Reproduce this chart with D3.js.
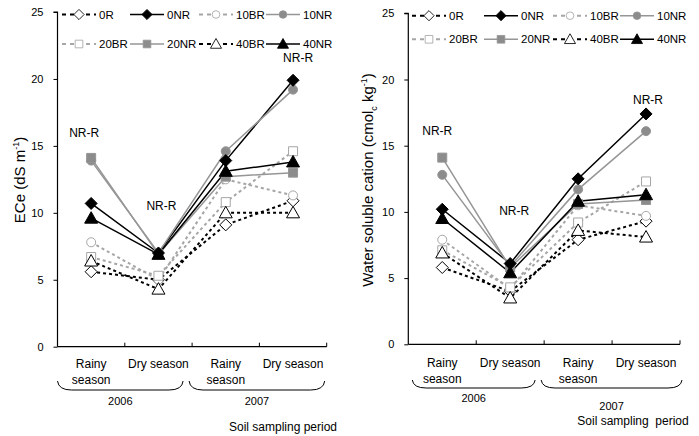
<!DOCTYPE html>
<html>
<head>
<meta charset="utf-8">
<script src="https://cdn.jsdelivr.net/npm/d3@7"></script>
<style>
  body { margin: 0; background: #fff; }
  text { font-family: "Liberation Sans", Arial, sans-serif; fill: #000; }
</style>
</head>
<body>
<svg id="chart" width="699" height="436"></svg>
<script>
// Sampling periods (x categories) and their printed labels
const periods = ["Rainy season 2006", "Dry season 2006", "Rainy season 2007", "Dry season 2007"];
const periodLabels = [["Rainy", "season"], ["Dry season"], ["Rainy", "season"], ["Dry season"]];
const years = ["2006", "2007"];
const yTicks = [0, 5, 10, 15, 20, 25];
const seriesNames = ["0R", "0NR", "10BR", "10NR", "20BR", "20NR", "40BR", "40NR"];

// Electrical conductivity of the saturated extract, ECe (dS m-1)
const ece0R   = [5.6, 5.0, 9.1, 10.9];
const ece0NR  = [10.7, 7.0, 13.9, 19.9];
const ece10BR = [7.8, 5.0, 12.5, 11.3];
const ece10NR = [13.9, 7.0, 14.6, 19.2];
const ece20BR = [6.7, 5.3, 10.8, 14.6];
const ece20NR = [14.1, 6.9, 12.7, 13.0];
const ece40BR = [6.4, 4.3, 10.0, 10.0];
const ece40NR = [9.6, 6.9, 13.1, 13.8];

// Water soluble cations (cmolc kg-1)
const wsc0R   = [5.8, 4.0, 7.9, 9.3];
const wsc0NR  = [10.2, 6.1, 12.5, 17.4];
const wsc10BR = [7.9, 4.2, 10.5, 9.7];
const wsc10NR = [12.8, 5.9, 11.7, 16.1];
const wsc20BR = [7.1, 4.3, 9.2, 12.3];
const wsc20NR = [14.1, 5.8, 10.6, 10.9];
const wsc40BR = [6.9, 3.5, 8.6, 8.1];
const wsc40NR = [9.5, 5.4, 10.8, 11.3];

const eceSeries = [ece0R, ece0NR, ece10BR, ece10NR, ece20BR, ece20NR, ece40BR, ece40NR];
const wscSeries = [wsc0R, wsc0NR, wsc10BR, wsc10NR, wsc20BR, wsc20NR, wsc40BR, wsc40NR];

// Line and marker style for each treatment
const styles = {
  "0R":   { stroke: "#000",    dash: true,  shape: "diamond",  fill: "#fff" },
  "0NR":  { stroke: "#000",    dash: false, shape: "diamond",  fill: "#000" },
  "10BR": { stroke: "#a6a6a6", dash: true,  shape: "circle",   fill: "#fff" },
  "10NR": { stroke: "#969696", dash: false, shape: "circle",   fill: "#8c8c8c" },
  "20BR": { stroke: "#a6a6a6", dash: true,  shape: "square",   fill: "#fff" },
  "20NR": { stroke: "#969696", dash: false, shape: "square",   fill: "#8c8c8c" },
  "40BR": { stroke: "#000",    dash: true,  shape: "triangle", fill: "#fff" },
  "40NR": { stroke: "#000",    dash: false, shape: "triangle", fill: "#000" }
};
// markers drawn in this order so the solid black ones sit on top
const markerOrder = ["0R", "10BR", "20BR", "40BR", "10NR", "20NR", "0NR", "40NR"];

function markerPath(shape) {
  const p = d3.path();
  if (shape === "diamond") {
    const r = 6;
    p.moveTo(0, -r); p.lineTo(r, 0); p.lineTo(0, r); p.lineTo(-r, 0); p.closePath();
  } else if (shape === "circle") {
    p.arc(0, 0, 4.5, 0, 2 * Math.PI);
  } else if (shape === "square") {
    p.rect(-4.5, -4.5, 9, 9);
  } else {
    p.moveTo(0, -6.5); p.lineTo(6.5, 5); p.lineTo(-6.5, 5); p.closePath();
  }
  return p.toString();
}

const svg = d3.select("#chart");

function drawPanel(cfg) {
  const g = svg.append("g");
  const x = d3.scaleBand().domain(periods).range([cfg.x0, cfg.x1]).padding(0);
  const y = d3.scaleLinear().domain([0, 25]).range([cfg.yBottom, cfg.yTop]);
  const cx = p => x(p) + x.bandwidth() / 2;

  // y axis
  const yAxis = g.append("g").attr("transform", `translate(${cfg.x0},0)`)
    .call(d3.axisLeft(y).tickValues(yTicks).tickSize(4).tickPadding(10));
  yAxis.select(".domain").attr("stroke", "#000").attr("stroke-width", 1.2)
    .attr("d", `M-4,${y(25)}H0V${y(0)}`);
  yAxis.selectAll("text").style("font-family", "Liberation Sans, Arial, sans-serif")
    .style("font-size", "11px").attr("fill", "#000");

  // x axis with tick marks at the band boundaries, pointing into the plot
  const xg = g.append("g");
  xg.append("line").attr("x1", cfg.x0).attr("x2", cfg.x1)
    .attr("y1", y(0)).attr("y2", y(0)).attr("stroke", "#000").attr("stroke-width", 1.2);
  const bounds = periods.map(p => x(p)).concat([cfg.x1]).slice(1);
  xg.selectAll(".xt").data(bounds).join("line")
    .attr("x1", d => d).attr("x2", d => d)
    .attr("y1", y(0)).attr("y2", y(0) - 4).attr("stroke", "#000").attr("stroke-width", 1);

  // category labels
  periods.forEach((p, i) => {
    const t = g.append("text").attr("x", cx(p)).attr("y", cfg.catY)
      .attr("text-anchor", "middle").style("font-size", "12px");
    periodLabels[i].forEach((line, k) => {
      t.append("tspan").attr("x", cx(p)).attr("dy", k === 0 ? 0 : 16).text(line);
    });
  });

  // year braces and labels
  years.forEach((yr, k) => {
    const a = x(periods[2 * k]) + cfg.braceInset[k][0];
    const b = x(periods[2 * k + 1]) + x.bandwidth() + cfg.braceInset[k][1];
    const t0 = cfg.braceTop, t1 = cfg.braceBottom;
    const path = d3.path();
    path.moveTo(a, t0);
    path.quadraticCurveTo(a + 1, t1, a + 14, t1);
    path.lineTo(b - 14, t1);
    path.quadraticCurveTo(b - 1, t1, b, t0);
    g.append("path").attr("d", path.toString()).attr("fill", "none")
      .attr("stroke", "#000").attr("stroke-width", 1);
    g.append("text").attr("x", (a + b) / 2).attr("y", cfg.yearY[k])
      .attr("text-anchor", "middle").style("font-size", "11px").text(yr);
  });

  g.append("text").attr("x", cfg.periodTitle[0]).attr("y", cfg.periodTitle[1])
    .attr("text-anchor", "middle").style("font-size", "12px").style("white-space", "pre")
    .text(cfg.periodTitleText);

  // y axis title
  const yt = g.append("text")
    .attr("transform", `translate(${cfg.yTitle[0]},${cfg.yTitle[1]}) rotate(-90)`)
    .attr("text-anchor", "middle").style("font-size", "15px");
  cfg.yTitleParts.forEach(part => {
    const ts = yt.append("tspan").text(part.t);
    if (part.sup) ts.attr("dy", -6).style("font-size", "9px");
    if (part.sub) ts.attr("dy", 4).style("font-size", "9px");
    if (part.reset) ts.attr("dy", part.reset);
  });

  // series lines
  const line = d3.line().x((d, i) => cx(periods[i])).y(d => y(d));
  seriesNames.forEach((name, si) => {
    const s = styles[name];
    g.append("path").datum(cfg.series[si]).attr("d", line)
      .attr("fill", "none").attr("stroke", s.stroke)
      .attr("stroke-width", s.dash ? 2 : 1.5)
      .attr("stroke-dasharray", s.dash ? "3,3" : null);
  });

  // series markers
  markerOrder.forEach(name => {
    const s = styles[name];
    const vals = cfg.series[seriesNames.indexOf(name)];
    g.selectAll(null).data(vals).join("path")
      .attr("d", markerPath(s.shape))
      .attr("transform", (d, i) => `translate(${cx(periods[i])},${y(d)})`)
      .attr("fill", s.fill).attr("stroke", s.stroke).attr("stroke-width", 1);
  });

  // "NR-R" annotations
  cfg.annots.forEach(a => {
    g.append("text").attr("x", cx(periods[a.i]) + a.dx).attr("y", y(a.v))
      .attr("text-anchor", "middle").attr("dominant-baseline", "central")
      .style("font-size", "12px").text("NR-R");
  });

  // legend
  seriesNames.forEach((name, si) => {
    const s = styles[name];
    const row = Math.floor(si / 4), col = si % 4;
    const lx = cfg.legendCols[col], ly = cfg.legendRows[row];
    const lg = g.append("g").attr("transform", `translate(${lx},${ly})`);
    lg.append("line").attr("x1", 0).attr("x2", 34).attr("y1", 0).attr("y2", 0)
      .attr("stroke", s.stroke).attr("stroke-width", s.dash ? 2 : 1.5)
      .attr("stroke-dasharray", s.dash ? "4,4" : null);
    lg.append("path").attr("d", markerPath(s.shape))
      .attr("transform", "translate(17,0) scale(0.85)")
      .attr("fill", s.fill).attr("stroke", s.stroke).attr("stroke-width", 1);
    lg.append("text").attr("x", 37).attr("y", 0).attr("dominant-baseline", "central")
      .style("font-size", "11.5px").text(name);
  });
}

drawPanel({
  x0: 57.5, x1: 326.7, yTop: 12, yBottom: 346.7,
  series: eceSeries,
  catY: 368,
  braceInset: [[0, -9], [-3, -2]],
  braceTop: 381, braceBottom: 390,
  yearY: [405, 405],
  periodTitle: [283, 431], periodTitleText: "Soil sampling period",
  yTitle: [25, 180],
  yTitleParts: [{ t: "ECe (dS m" }, { t: "-1", sup: true }, { t: ")", reset: 6 }],
  annots: [{ i: 0, dx: -7, v: 15.95 }, { i: 1, dx: 3, v: 10.5 }, { i: 3, dx: 5, v: 21.6 }],
  legendCols: [62, 130, 199, 266],
  legendRows: [14.5, 44]
});

drawPanel({
  x0: 408.3, x1: 680, yTop: 13.3, yBottom: 344.3,
  series: wscSeries,
  catY: 367,
  braceInset: [[4, -9], [-3, 2]],
  braceTop: 380, braceBottom: 388,
  yearY: [402, 410],
  periodTitle: [633, 425], periodTitleText: "Soil sampling  period",
  yTitle: [373, 180],
  yTitleParts: [{ t: "Water soluble cation (cmol" }, { t: "c", sub: true },
                { t: " kg", reset: -4 }, { t: "-1", sup: true }, { t: ")", reset: 6 }],
  annots: [{ i: 0, dx: -5, v: 16.1 }, { i: 1, dx: 4, v: 10.1 }, { i: 3, dx: 2, v: 18.45 }],
  legendCols: [412, 484, 553, 620],
  legendRows: [15.7, 39.3]
});
</script>
</body>
</html>
